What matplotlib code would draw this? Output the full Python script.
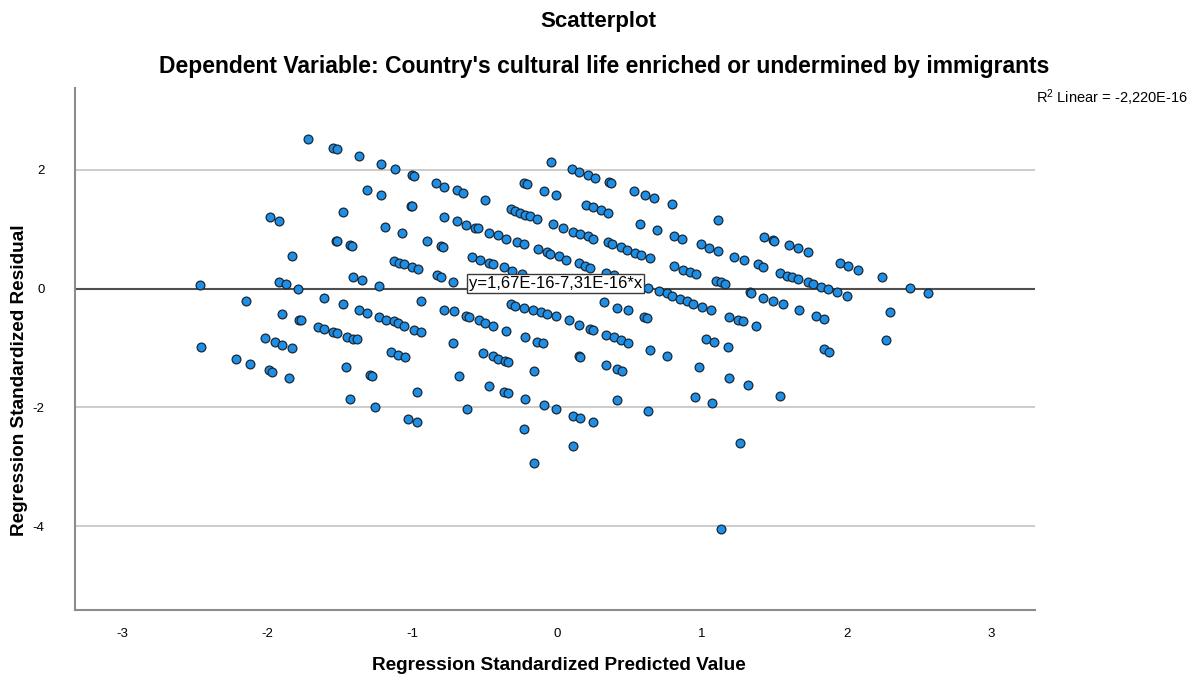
import matplotlib
matplotlib.use("Agg")
import matplotlib.pyplot as plt

plt.rcParams['font.family'] = ['Liberation Sans', 'DejaVu Sans']
plt.rcParams['mathtext.fontset'] = 'custom'
plt.rcParams['mathtext.rm'] = 'Liberation Sans'
plt.rcParams['mathtext.it'] = 'Liberation Sans'

# ---- data (standardized predicted value, standardized residual) ----
pred_std = [
    -1.72, -1.55, -1.52, -1.37, -1.22, -1.12, -1.31, -1.22, -1.48, -1.98,
    -1.92, -1.19, -1.07, -1.53, -1.52, -1.43, -1.42, -1.83, -1.13, -1.09,
    -1.06, -1.00, -0.96, -1.41, -1.35, -1.23, -2.47, -1.92, -1.87, -1.79,
    -2.15, -1.61, -1.48, -1.37, -1.31, -1.23, -1.18, -1.13, -1.10, -1.06,
    -0.99, -0.94, -1.90, -1.78, -1.77, -1.65, -1.61, -1.55, -1.52, -1.45,
    -1.41, -1.38, -2.46, -2.02, -1.95, -1.90, -1.83, -1.15, -1.10, -1.05,
    -2.22, -2.12, -1.99, -1.97, -1.85, -1.46, -1.29, -1.28, -1.43, -1.26,
    -1.00, -0.99, -0.84, -0.78, -0.69, -0.65, -0.50, -1.01, -1.00, -0.78,
    -0.69, -0.63, -0.57, -0.55, -0.90, -0.80, -0.79, -0.83, -0.80, -0.72,
    -0.94, -0.78, -0.71, -0.63, -0.61, -0.54, -0.50, -0.44, -0.35, -0.22,
    -0.14, -0.10, -0.72, -0.51, -0.44, -0.41, -0.36, -0.34, 0.15, 0.16,
    0.34, 0.41, 0.45, 0.64, 0.76, 0.98, 1.03, 1.08, 1.18, -0.16,
    -0.68, -0.97, -0.47, -0.37, -0.34, -0.22, -0.09, -0.01, 0.11, 0.16,
    0.25, 0.41, 0.63, 0.95, 1.07, -0.62, -1.03, -0.97, -0.23, 0.11,
    -0.16, 1.26, 1.13, 1.54, -0.04, 0.10, 0.15, 0.21, 0.26, 0.36,
    0.37, 0.53, 0.61, 0.67, 0.79, -0.23, -0.21, -0.09, -0.01, -0.32,
    -0.29, -0.26, -0.22, -0.19, -0.14, 0.20, 0.25, 0.30, 0.35, -0.03,
    0.04, 0.11, 0.16, 0.21, 0.25, 0.57, 0.69, 0.81, 0.86, 1.11,
    0.35, 0.38, 0.44, 0.48, 0.54, 0.58, 0.64, 0.99, 1.05, 1.11,
    -0.47, -0.41, -0.35, -0.28, -0.23, -0.13, -0.07, -0.05, 0.01, 0.06,
    -0.59, -0.53, -0.47, -0.44, -0.37, -0.31, -0.24, 0.15, 0.19, 0.23,
    0.81, 0.87, 0.92, 0.96, 0.34, 0.39, 1.10, 0.63, 0.70, 0.76,
    0.79, 0.85, 0.90, 0.94, 1.00, 1.06, -0.32, -0.29, -0.23, -0.17,
    -0.11, -0.07, -0.01, 0.08, 0.15, 0.23, 0.25, 0.32, 0.41, 0.49,
    0.60, 0.62, 0.34, 0.39, 0.44, 0.49, 1.22, 1.29, 1.39, 1.42,
    1.43, 1.49, 1.50, 1.60, 1.66, 1.73, 1.95, 2.01, 2.08, 2.24,
    1.13, 1.16, 1.54, 1.59, 1.62, 1.66, 1.73, 1.77, 1.82, 1.87,
    1.93, 2.00, 2.44, 2.56, 1.33, 1.34, 1.42, 1.49, 1.56, 1.67,
    1.79, 1.84, 2.30, 1.19, 1.25, 1.28, 1.37, 1.84, 1.88, 2.27,
    1.19, 1.32,
]
resid_std = [
    2.52, 2.37, 2.35, 2.23, 2.10, 2.01, 1.66, 1.58, 1.29, 1.20,
    1.14, 1.04, 0.94, 0.81, 0.80, 0.73, 0.72, 0.55, 0.47, 0.44,
    0.41, 0.37, 0.33, 0.20, 0.15, 0.05, 0.06, 0.11, 0.08, 0.00,
    -0.21, -0.16, -0.26, -0.36, -0.41, -0.47, -0.52, -0.55, -0.58, -0.63,
    -0.69, -0.73, -0.43, -0.52, -0.53, -0.64, -0.67, -0.73, -0.74, -0.81,
    -0.84, -0.85, -0.98, -0.83, -0.90, -0.94, -0.99, -1.07, -1.12, -1.15,
    -1.19, -1.27, -1.37, -1.40, -1.50, -1.32, -1.45, -1.47, -1.85, -2.00,
    1.92, 1.90, 1.78, 1.72, 1.66, 1.61, 1.50, 1.40, 1.39, 1.21,
    1.14, 1.08, 1.03, 1.02, 0.80, 0.72, 0.70, 0.23, 0.19, 0.12,
    -0.20, -0.35, -0.38, -0.46, -0.48, -0.53, -0.57, -0.63, -0.71, -0.82,
    -0.89, -0.92, -0.91, -1.08, -1.14, -1.18, -1.22, -1.24, -1.13, -1.15,
    -1.29, -1.36, -1.38, -1.04, -1.13, -1.32, -0.84, -0.89, -0.98, -1.38,
    -1.47, -1.74, -1.64, -1.74, -1.76, -1.85, -1.96, -2.03, -2.14, -2.18,
    -2.25, -1.87, -2.06, -1.82, -1.92, -2.03, -2.20, -2.25, -2.37, -2.65,
    -2.94, -2.59, -4.04, -1.80, 2.13, 2.01, 1.97, 1.92, 1.87, 1.80,
    1.78, 1.64, 1.58, 1.53, 1.42, 1.78, 1.76, 1.65, 1.58, 1.35,
    1.31, 1.28, 1.24, 1.22, 1.18, 1.41, 1.37, 1.32, 1.27, 1.09,
    1.03, 0.96, 0.92, 0.89, 0.84, 1.09, 0.99, 0.89, 0.84, 1.15,
    0.78, 0.75, 0.70, 0.65, 0.60, 0.56, 0.51, 0.75, 0.68, 0.63,
    0.94, 0.90, 0.84, 0.79, 0.75, 0.67, 0.61, 0.59, 0.55, 0.49,
    0.54, 0.48, 0.44, 0.41, 0.36, 0.30, 0.25, 0.44, 0.39, 0.35,
    0.38, 0.32, 0.28, 0.25, 0.27, 0.23, 0.13, 0.02, -0.04, -0.08,
    -0.12, -0.17, -0.20, -0.25, -0.30, -0.36, -0.26, -0.29, -0.33, -0.36,
    -0.39, -0.42, -0.46, -0.52, -0.61, -0.67, -0.70, -0.22, -0.32, -0.36,
    -0.47, -0.50, -0.78, -0.82, -0.87, -0.92, 0.54, 0.48, 0.41, 0.37,
    0.87, 0.82, 0.81, 0.73, 0.68, 0.62, 0.44, 0.39, 0.32, 0.19,
    0.11, 0.08, 0.27, 0.22, 0.20, 0.17, 0.11, 0.08, 0.03, -0.01,
    -0.06, -0.12, 0.02, -0.08, -0.06, -0.08, -0.15, -0.20, -0.26, -0.36,
    -0.46, -0.51, -0.39, -0.47, -0.52, -0.55, -0.62, -1.01, -1.06, -0.87,
    -1.51, -1.62,
]

fit_intercept = 1.67e-16
fit_slope = -7.31e-16
r2_text = "-2,220E-16"
x_ticks = [-3, -2, -1, 0, 1, 2, 3]
y_ticks = [-4, -2, 0, 2]

W, H = 1197, 681
fig = plt.figure(figsize=(W / 100, H / 100), dpi=100)
ax = fig.add_axes([75 / W, (H - 610) / H, 960 / W, 522 / H])

xlim = (-3.33, 3.30)
ax.set_xlim(*xlim)
ax.set_ylim(-5.41, 3.38)

# reference grid lines
for yv in y_ticks:
    if yv != 0:
        ax.axhline(yv, color='#c8c8c8', lw=1.3, zorder=1)

# fit line
ax.plot(list(xlim), [fit_intercept + fit_slope * xlim[0], fit_intercept + fit_slope * xlim[1]],
        color='#505050', lw=1.5, zorder=2)

ax.scatter(pred_std, resid_std, s=40, c='#1e8fe6', edgecolors='#1b2733',
           linewidths=0.9, zorder=3)

ax.text(-0.01, 0.08, "y=1,67E-16-7,31E-16*x", fontsize=12, ha='center', va='center',
        zorder=6, bbox=dict(boxstyle='square,pad=0.12', fc='white', ec='#3a3a3a', lw=1.0))

for s in ['top', 'right']:
    ax.spines[s].set_visible(False)
for s in ['left', 'bottom']:
    ax.spines[s].set_color('#8c8c8c')
    ax.spines[s].set_linewidth(1.5)

ax.set_xticks(x_ticks)
ax.set_yticks(y_ticks)
ax.set_xticklabels([str(v) for v in x_ticks])
ax.set_yticklabels([str(v) for v in y_ticks])
ax.tick_params(axis='both', length=0, labelsize=9.5, colors='black')
ax.tick_params(axis='x', pad=13)
ax.tick_params(axis='y', pad=22)

fig.text(598 / W, 1 - 22 / H, "Scatterplot", fontsize=16, fontweight='bold',
         ha='center', va='center')
fig.text(604 / W, 1 - 66 / H,
         "Dependent Variable: Country's cultural life enriched or undermined by immigrants",
         fontsize=16.5, fontweight='bold', ha='center', va='center')
fig.text(559 / W, 1 - 666 / H, "Regression Standardized Predicted Value", fontsize=13.7,
         fontweight='bold', ha='center', va='center')
fig.text(20 / W, 1 - 380 / H, "Regression Standardized Residual", fontsize=13.7,
         fontweight='bold', ha='center', va='center', rotation=90)
fig.text(1036 / W, 1 - 98 / H, r"R$^2$ Linear = " + r2_text, fontsize=10.5,
         ha='left', va='center')

fig.savefig("out.png", dpi=100)
